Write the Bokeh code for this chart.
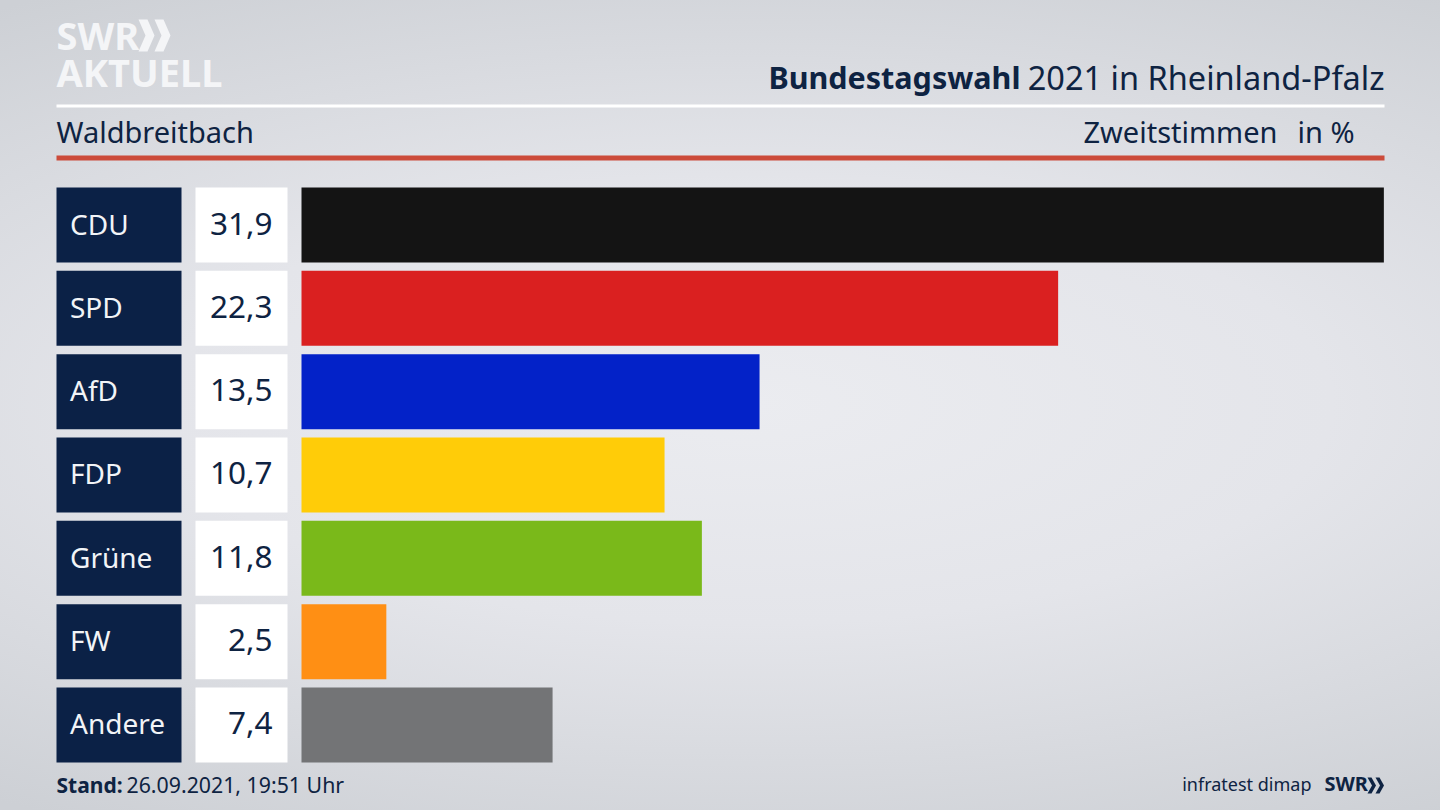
from bokeh.core.properties import value
from bokeh.embed import file_html
from bokeh.models import Range1d, LinearScale
from bokeh.plotting import figure
from bokeh.resources import INLINE
import numpy as np

parties = ["CDU", "SPD", "AfD", "FDP", "Grüne", "FW", "Andere"]
values = [31.9, 22.3, 13.5, 10.7, 11.8, 2.5, 7.4]
value_labels = ["31,9", "22,3", "13,5", "10,7", "11,8", "2,5", "7,4"]
bar_colors = ["#141414", "#da2020", "#0322c8", "#ffcc08", "#7ab91a", "#ff8f14", "#737476"]

FONT = value("Noto Sans")
NAVY = "#0b2146"
INK = "#0e2342"
W, H_PX = 1440, 810

p = figure(width=W, height=H_PX, output_backend="svg", toolbar_location=None,
           x_axis_location=None, y_axis_location=None, min_border=0,
           x_range=Range1d(-301 / 33.93, (W - 301) / 33.93),
           y_range=Range1d((H_PX - 224.5) / 83.33, -224.5 / 83.33),
           outline_line_color=None, background_fill_alpha=0, border_fill_alpha=0)
p.grid.visible = False
p.extra_x_ranges["px"] = Range1d(0, W)
p.extra_y_ranges["px"] = Range1d(H_PX, 0)
p.extra_x_scales["px"] = LinearScale()
p.extra_y_scales["px"] = LinearScale()
p.styles = {
    "background": "radial-gradient(ellipse 90% 60% at 52% 50%, #ebecf0 0%, #e4e5ea 45%, #cdd0d5 100%)",
}

rows = np.arange(len(parties))
H = 75 / 83.33

p.quad(left=0, right=values, top=rows - H / 2, bottom=rows + H / 2, fill_color=bar_colors, line_color=None)
p.quad(left=56, right=181, top=rows - H / 2, bottom=rows + H / 2, fill_color=NAVY, line_color=None,
       x_range_name="px")
p.quad(left=195, right=287, top=rows - H / 2, bottom=rows + H / 2, fill_color="#ffffff", line_color=None,
       x_range_name="px")
p.text(x=69.5, y=rows, text=parties, text_color="#f2f4f7", text_font=FONT, text_font_size="28px",
       text_baseline="middle", text_align="left", y_offset=-1.5, x_range_name="px")
p.text(x=272, y=rows, text=value_labels, text_color=INK, text_font=FONT, text_font_size="31.5px",
       text_baseline="middle", text_align="right", y_offset=-1.5, x_range_name="px")


def rule(x0, x1, y0, y1, color):
    p.quad(left=x0, right=x1, top=y0, bottom=y1, fill_color=color, line_color=None,
           x_range_name="px", y_range_name="px")


def txt(x, y, s, size, color=INK, style="normal", align="left"):
    p.text(x=[x], y=[y], text=[s], text_color=color, text_font=FONT, text_font_size=size,
           text_font_style=style, text_align=align, text_baseline="middle",
           x_range_name="px", y_range_name="px")


def chevrons(x0, y0, cw, dx, h, t, color):
    # the two arrow heads of the SWR logo
    xs, ys = [], []
    for x in (x0, x0 + dx):
        xs.append([x, x + t, x + cw, x + t, x, x + cw - t])
        ys.append([y0, y0, y0 + h / 2, y0 + h, y0 + h, y0 + h / 2])
    p.patches(xs, ys, fill_color=color, line_color=None, x_range_name="px", y_range_name="px")


rule(56, 1384, 104, 107, "#ffffff")
rule(56, 1384, 155, 160, "#cc4b3a")
txt(56, 34, "SWR", "38px", "#f4f5f7", "bold")
chevrons(138, 19, 16, 16, 32, 9, "#f4f5f7")
txt(56, 71, "AKTUELL", "38px", "#f4f5f7", "bold")
txt(1020, 76.5, "Bundestagswahl", "30.5px", INK, "bold", "right")
txt(1384, 76.5, "2021 in Rheinland-Pfalz", "32.5px", INK, "normal", "right")
txt(56, 130.5, "Waldbreitbach", "29px")
txt(1277, 130.5, "Zweitstimmen", "29px", align="right")
txt(1354, 130.5, "in %", "29px", align="right")
txt(56, 784, "Stand:", "21px", INK, "bold")
txt(126, 784, "26.09.2021, 19:51 Uhr", "21.3px")
txt(1311, 783, "infratest dimap", "18px", align="right")
txt(1324, 783, "SWR", "20px", INK, "bold")
chevrons(1367, 777, 8.5, 8, 16, 4, INK)

open("out.html", "w").write(file_html(p, INLINE))
